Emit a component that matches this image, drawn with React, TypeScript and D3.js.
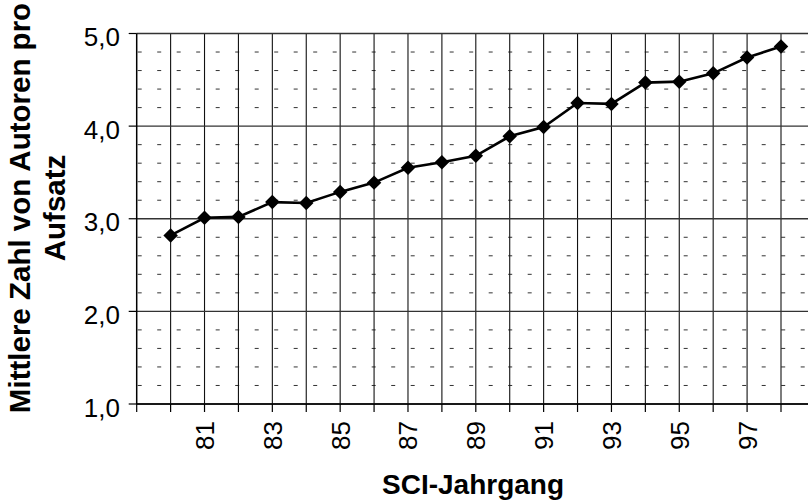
import * as d3 from 'd3';

const years = [80, 81, 82, 83, 84, 85, 86, 87, 88, 89, 90, 91, 92, 93, 94, 95, 96, 97, 98];
const authors = [2.82, 3.01, 3.02, 3.18, 3.17, 3.29, 3.39, 3.55, 3.61, 3.68, 3.89, 3.99, 4.25, 4.24, 4.47, 4.48, 4.57, 4.74, 4.86];
const xTickLabels = ['81', '83', '85', '87', '89', '91', '93', '95', '97'];
const yMajor = [1, 2, 3, 4, 5];
const yMinor = [1.2, 1.4, 1.6, 1.8, 2.2, 2.4, 2.6, 2.8, 3.2, 3.4, 3.6, 3.8, 4.2, 4.4, 4.6, 4.8];

const W = 808;
const H = 504;
const FONT = '"Liberation Sans", Arial, sans-serif';

export default function App() {
  // axis origin sits one category step before the first year
  const x = d3.scaleLinear().domain([79, 98]).range([136.7, 781]);
  const y = d3.scaleLinear().domain([1, 5]).range([404, 33.5]);
  const left = x(79);
  const right = W;

  const line = d3.line<number>()
    .x((_, i) => x(years[i]))
    .y((d) => y(d));

  const diamond = d3.symbol(d3.symbolSquare, 105)();

  return (
    <svg width={W} height={H} style={{ position: 'absolute', left: 0, top: 0, background: '#fff' }}>
      {/* minor dashed grid */}
      {yMinor.map((v) => (
        <line key={'m' + v} x1={left} x2={right} y1={y(v)} y2={y(v)}
          stroke="#333" strokeWidth={1} strokeDasharray="4,15.5" strokeDashoffset={-1} />
      ))}
      {/* vertical grid */}
      {years.map((yr) => (
        <line key={'v' + yr} x1={x(yr)} x2={x(yr)} y1={y(5)} y2={y(1)} stroke="#111" strokeWidth={1.1} />
      ))}
      {/* major horizontal grid */}
      {yMajor.map((v) => (
        <line key={'h' + v} x1={left} x2={right} y1={y(v)} y2={y(v)} stroke="#333" strokeWidth={1.3} />
      ))}
      {/* axes */}
      <line x1={left} x2={left} y1={y(5)} y2={y(1)} stroke="#000" strokeWidth={1.5} />
      <line x1={left} x2={right} y1={y(1)} y2={y(1)} stroke="#000" strokeWidth={1.5} />
      {yMajor.map((v) => (
        <g key={'yt' + v}>
          <line x1={left - 8} x2={left} y1={y(v)} y2={y(v)} stroke="#000" strokeWidth={1.2} />
          <text x={120} y={y(v) + 12.5} textAnchor="end" fontFamily={FONT} fontSize={26} fill="#000">
            {d3.format('.1f')(v).replace('.', ',')}
          </text>
        </g>
      ))}
      {[79, ...years].map((yr) => (
        <line key={'xt' + yr} x1={x(yr)} x2={x(yr)} y1={y(1)} y2={y(1) + 8} stroke="#000" strokeWidth={1.2} />
      ))}
      {xTickLabels.map((t) => (
        <text key={'xl' + t} transform={`translate(${x(+t) + 9.5},421) rotate(-90)`}
          textAnchor="end" fontFamily={FONT} fontSize={26} fill="#000">{t}</text>
      ))}
      {/* series */}
      <path d={line(authors) ?? ''} fill="none" stroke="#000" strokeWidth={2.6} />
      {authors.map((v, i) => (
        <path key={'p' + i} d={diamond} transform={`translate(${x(years[i])},${y(v)}) rotate(45)`} fill="#000" />
      ))}
      {/* titles */}
      <text x={473} y={494} textAnchor="middle" fontFamily={FONT} fontSize={28} fontWeight="bold" fill="#000">
        SCI-Jahrgang
      </text>
      <g transform="translate(0,208) rotate(-90)" fontFamily={FONT} fontSize={29.5} fontWeight="bold" fill="#000">
        <text x={0} y={30} textAnchor="middle">Mittlere Zahl von Autoren pro</text>
        <text x={0} y={65} textAnchor="middle">Aufsatz</text>
      </g>
    </svg>
  );
}
